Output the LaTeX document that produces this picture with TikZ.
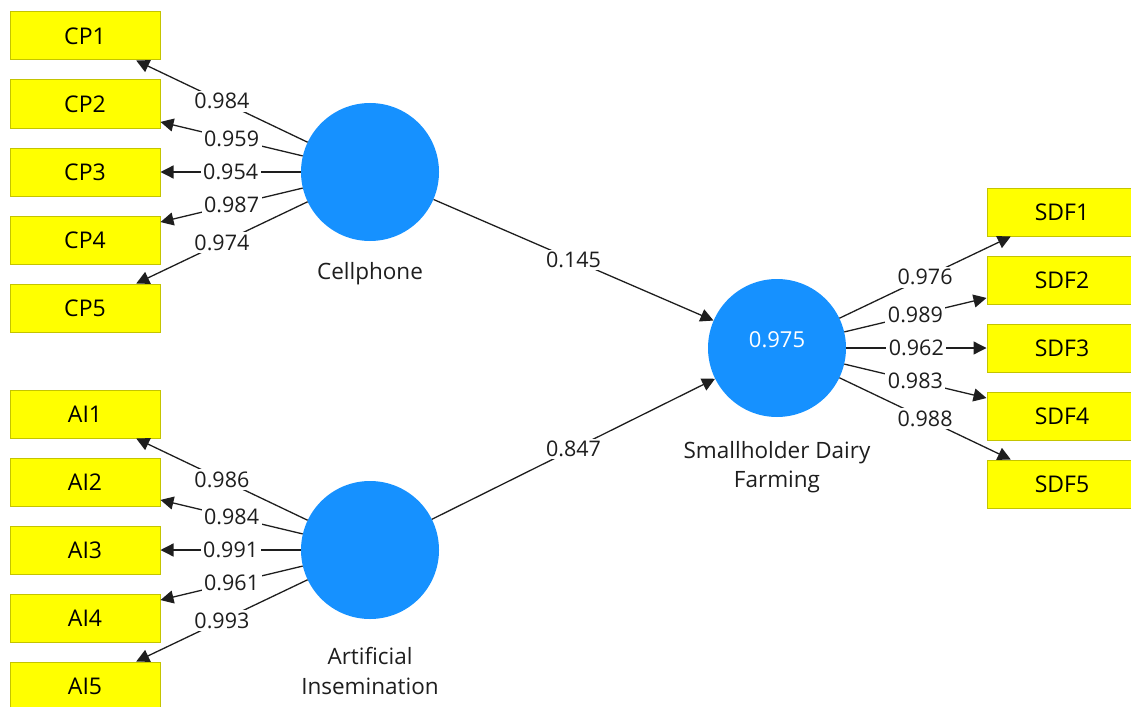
\documentclass[tikz,border=0pt]{standalone}
\usepackage{fontspec}
\setmainfont{Open Sans}
\usetikzlibrary{arrows.meta}
\definecolor{boxyellow}{RGB}{255,255,0}
\definecolor{boxedge}{RGB}{196,196,0}
\definecolor{lvblue}{RGB}{22,145,255}
\definecolor{inkgray}{RGB}{30,30,30}
\begin{document}
\begin{tikzpicture}[x=1pt,y=-1pt,
  ind/.style={rectangle, fill=boxyellow, draw=boxedge, line width=1pt,
    minimum width=150pt, minimum height=48pt, inner sep=0pt,
    font=\fontsize{23}{27}\selectfont, text=black},
  lv/.style={circle, fill=lvblue, minimum size=138pt, inner sep=0pt,
    font=\fontsize{22}{26}\selectfont, text=white},
  lvcaption/.style={align=center, font=\fontsize{22.5}{29.5}\selectfont, text=inkgray},
  link/.style={draw=inkgray, line width=1.3pt, -{Triangle[length=13pt,width=13pt]}},
  coef/.style={fill=white, inner sep=2.5pt, font=\fontsize{21.5}{24}\selectfont, text=inkgray}]
\useasboundingbox (0,0) rectangle (1131,706);
\clip (0,0) rectangle (1131,706);

% latent variables
\node[lv] (cp) at (370,172) {};
\node[lv] (ai) at (370,550) {};
\node[lv] (sdf) at (777,348) {};
\node[font=\fontsize{22}{26}\selectfont, text=white] (r2) at (777,340) {0.975};

% captions
\node[lvcaption] (cpcap) at (370,274) {Cellphone};
\node[lvcaption] (aicap) at (370,671) {Artificial\\Insemination};
\node[lvcaption] (sdfcap) at (777,467) {Smallholder Dairy\\Farming};

% indicators
\node[ind] (cp1) at (85,36) {CP1};
\node[ind] (cp2) at (85,104) {CP2};
\node[ind] (cp3) at (85,172) {CP3};
\node[ind] (cp4) at (85,240) {CP4};
\node[ind] (cp5) at (85,308) {CP5};

\node[ind] (ai1) at (85,414) {AI1};
\node[ind] (ai2) at (85,482) {AI2};
\node[ind] (ai3) at (85,550) {AI3};
\node[ind] (ai4) at (85,618) {AI4};
\node[ind] (ai5) at (85,686) {AI5};

\node[ind] (sdf1) at (1062,212) {SDF1};
\node[ind] (sdf2) at (1062,280) {SDF2};
\node[ind] (sdf3) at (1062,348) {SDF3};
\node[ind] (sdf4) at (1062,416) {SDF4};
\node[ind] (sdf5) at (1062,484) {SDF5};

% outer loadings
\draw[link] (cp) -- (cp1) node[coef, midway] {0.984};
\draw[link] (cp) -- (cp2) node[coef, midway] {0.959};
\draw[link] (cp) -- (cp3) node[coef, midway] {0.954};
\draw[link] (cp) -- (cp4) node[coef, midway] {0.987};
\draw[link] (cp) -- (cp5) node[coef, midway] {0.974};

\draw[link] (ai) -- (ai1) node[coef, midway] {0.986};
\draw[link] (ai) -- (ai2) node[coef, midway] {0.984};
\draw[link] (ai) -- (ai3) node[coef, midway] {0.991};
\draw[link] (ai) -- (ai4) node[coef, midway] {0.961};
\draw[link] (ai) -- (ai5) node[coef, midway] {0.993};

\draw[link] (sdf) -- (sdf1) node[coef, midway] {0.976};
\draw[link] (sdf) -- (sdf2) node[coef, midway] {0.989};
\draw[link] (sdf) -- (sdf3) node[coef, midway] {0.962};
\draw[link] (sdf) -- (sdf4) node[coef, midway] {0.983};
\draw[link] (sdf) -- (sdf5) node[coef, midway] {0.988};

% path coefficients
\draw[link] (cp) -- (sdf) node[coef, midway] {0.145};
\draw[link] (ai) -- (sdf) node[coef, midway] {0.847};
\end{tikzpicture}
\end{document}
